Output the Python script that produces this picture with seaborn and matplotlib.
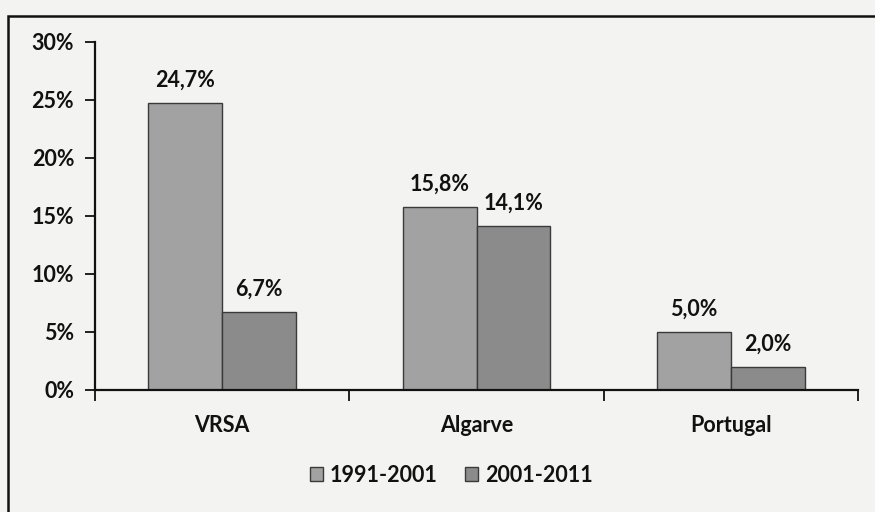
import matplotlib
matplotlib.use("Agg")
import matplotlib.pyplot as plt
from matplotlib.patches import Rectangle
import seaborn as sns
import pandas as pd

regions = ["VRSA", "Algarve", "Portugal"]
periods = ["1991-2001", "2001-2011"]
growth_1991_2001 = [24.7, 15.8, 5.0]
growth_2001_2011 = [6.7, 14.1, 2.0]
y_ticks = [0, 5, 10, 15, 20, 25, 30]

df = pd.DataFrame({
    "region": regions * 2,
    "period": [periods[0]] * 3 + [periods[1]] * 3,
    "value": growth_1991_2001 + growth_2001_2011,
})

sns.set_theme(style="white")
plt.rcParams["font.family"] = ["Lato", "DejaVu Sans"]
plt.rcParams["font.weight"] = "bold"

ink = "#111111"
bg = "#f3f3f1"
fs = 15.5
fig = plt.figure(figsize=(8.75, 5.12), dpi=100, facecolor=bg)
ax = fig.add_axes([0.1086, 0.2383, 0.8720, 0.6797])
ax.set_facecolor(bg)

palette = {periods[0]: "#a2a2a2", periods[1]: "#8b8b8b"}
sns.barplot(data=df, x="region", y="value", hue="period", palette=palette,
            width=0.58, edgecolor="#3a3a3a", linewidth=1.0, saturation=1,
            ax=ax, legend=True)

for container in ax.containers:
    ax.bar_label(container,
                 labels=[f"{v:.1f}%".replace(".", ",") for v in container.datavalues],
                 padding=9, fontsize=fs, fontweight="bold", color=ink)

ax.set_xlim(-0.5, 2.5)
ax.set_ylim(0, 30)
ax.set_yticks(y_ticks)
ax.set_yticklabels([f"{t}%" for t in y_ticks], fontsize=fs, fontweight="bold", color=ink)
ax.tick_params(axis="x", length=0, labelsize=fs, pad=18, colors=ink)
ax.tick_params(axis="y", length=7, width=1.3, direction="out", left=True, pad=8, color=ink)
for lbl in ax.get_xticklabels():
    lbl.set_fontweight("bold")
ax.set_xlabel("")
ax.set_ylabel("")

# category boundary ticks on the x axis
ax.set_xticks([-0.5, 0.5, 1.5, 2.5], minor=True)
ax.tick_params(axis="x", which="minor", length=8, width=1.3, direction="out",
               bottom=True, color=ink)

for side in ["top", "right"]:
    ax.spines[side].set_visible(False)
for side in ["left", "bottom"]:
    ax.spines[side].set_color(ink)
    ax.spines[side].set_linewidth(1.6)

leg = ax.legend(loc="center", bbox_to_anchor=(0.467, -0.245), ncol=2, frameon=False,
                fontsize=fs, handlelength=0.6, handleheight=0.6,
                handletextpad=0.3, columnspacing=1.3)
for t in leg.get_texts():
    t.set_fontweight("bold")
    t.set_color(ink)

# outer chart frame (runs past the right and bottom edges)
fig.patches.append(Rectangle((8 / 875, -0.05), 1.0, 1.05 - 16 / 512,
                             transform=fig.transFigure, fill=False,
                             edgecolor=ink, linewidth=1.8))

fig.savefig("out.png", dpi=100, facecolor=bg)
